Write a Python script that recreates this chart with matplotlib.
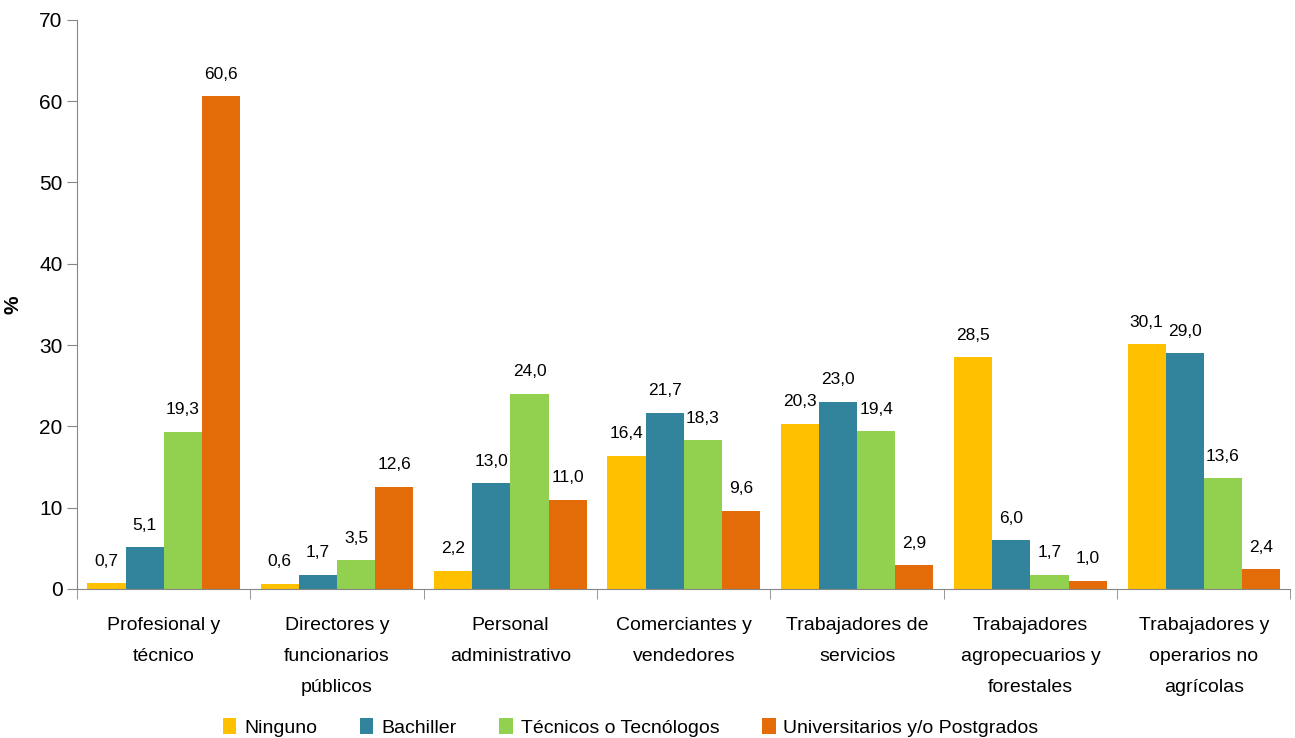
import numpy as np
import matplotlib
matplotlib.use("Agg")
import matplotlib.pyplot as plt
from matplotlib.patches import Patch

plt.rcParams['font.family'] = ['Liberation Sans Narrow', 'Liberation Sans', 'DejaVu Sans']

categories = [
    "Profesional y\ntécnico",
    "Directores y\nfuncionarios\npúblicos",
    "Personal\nadministrativo",
    "Comerciantes y\nvendedores",
    "Trabajadores de\nservicios",
    "Trabajadores\nagropecuarios y\nforestales",
    "Trabajadores y\noperarios no\nagrícolas",
]
series_names = ["Ninguno", "Bachiller", "Técnicos o Tecnólogos", "Universitarios y/o Postgrados"]
ninguno = [0.7, 0.6, 2.2, 16.4, 20.3, 28.5, 30.1]
bachiller = [5.1, 1.7, 13.0, 21.7, 23.0, 6.0, 29.0]
tecnicos = [19.3, 3.5, 24.0, 18.3, 19.4, 1.7, 13.6]
universitarios = [60.6, 12.6, 11.0, 9.6, 2.9, 1.0, 2.4]
colors = ["#FFC000", "#31849B", "#92D050", "#E36C09"]

fig = plt.figure(figsize=(12.95, 7.38), dpi=100)
ax = fig.add_axes([0.0595, 0.202, 0.937, 0.771])

x = np.arange(len(categories))
width = 0.22
offsets = (np.arange(4) - 1.5) * width
for vals, off, col in zip([ninguno, bachiller, tecnicos, universitarios], offsets, colors):
    bars = ax.bar(x + off, vals, width=width, color=col, edgecolor="none")
    for b, v in zip(bars, vals):
        ax.text(b.get_x() + b.get_width() / 2, v + 1.8, f"{v:.1f}".replace(".", ","),
                ha="center", va="bottom", fontsize=12.5)

ax.set_xlim(-0.5, len(categories) - 0.5)
ax.set_ylim(0, 70)
ax.set_yticks(range(0, 71, 10))
ax.set_xticks(np.arange(len(categories) + 1) - 0.5, minor=True)
ax.set_xticks(x)
ax.set_xticklabels(categories, fontsize=14, linespacing=2.1)
ax.tick_params(axis="x", which="major", length=0, pad=20)
ax.tick_params(axis="x", which="minor", length=7, color="#868686")
ax.tick_params(axis="y", labelsize=15, length=7, color="#868686")
for s in ["top", "right"]:
    ax.spines[s].set_visible(False)
for s in ["left", "bottom"]:
    ax.spines[s].set_color("#868686")
ax.set_ylabel("%", fontsize=15, fontweight="bold", labelpad=12)

handles = [Patch(facecolor=c, edgecolor="none") for c in colors]
fig.legend(handles, series_names, loc="lower center", bbox_to_anchor=(0.487, -0.022), ncol=4,
           frameon=False, fontsize=14, handlelength=0.7, handleheight=0.9,
           handletextpad=0.4, columnspacing=2.2)

fig.savefig("out.png", dpi=100)
